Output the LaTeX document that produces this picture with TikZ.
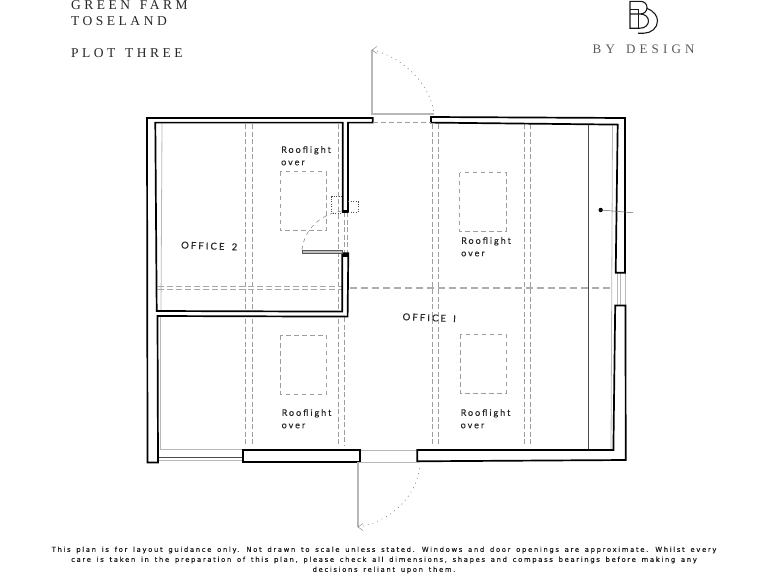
\documentclass[tikz,border=0pt]{standalone}
\usepackage{fontspec}
\setmainfont{Liberation Serif}
\newfontfamily\labelfont[LetterSpace=22,WordSpace=1.6,FakeBold=0.35]{Lato}
\newfontfamily\titlefont[LetterSpace=26,WordSpace=1.4]{Liberation Serif}
\newfontfamily\brandfont[LetterSpace=32,WordSpace=1.5]{Liberation Serif}
\newfontfamily\notefont[LetterSpace=24,WordSpace=1.5,FakeBold=0.2]{DejaVu Sans}
\tikzset{
  wall/.style={draw=black,line width=1.7pt,fill=white,line join=miter},
  roofdash/.style={draw=black!38,line width=0.6pt,dash pattern=on 4.5pt off 3.5pt},
  beamdash/.style={draw=black!38,line width=0.65pt,dash pattern=on 5pt off 2.5pt},
  ridge/.style={draw=black!35,line width=0.6pt,dash pattern=on 6pt off 3pt},
  ridgethick/.style={draw=black!32,line width=0.9pt,dash pattern=on 6.5pt off 4.5pt},
  lightline/.style={draw=black!28,line width=0.8pt},
  leaf/.style={draw=black!28,line width=1.4pt},
  swing/.style={draw=black!50,line width=0.6pt,dash pattern=on 1pt off 4pt},
  swingin/.style={draw=black!45,line width=0.6pt,dash pattern=on 4pt off 4pt},
  dots/.style={draw=black!70,line width=0.7pt,dash pattern=on 1pt off 1.5pt},
  room/.style={inner sep=0pt,anchor=west,font=\labelfont\fontsize{9.5}{11}\selectfont,text=black!85},
  roof/.style={inner sep=0pt,anchor=north west,align=left,font=\labelfont\fontsize{9}{12.4}\selectfont,text=black!85},
  title/.style={inner sep=0pt,anchor=west,font=\titlefont\fontsize{13.5}{14}\selectfont,text=black!85},
  brand/.style={inner sep=0pt,anchor=west,font=\brandfont\fontsize{13}{14}\selectfont,text=black!65},
  note/.style={inner sep=0pt,align=center,font=\notefont\fontsize{6.85}{10}\selectfont,text=black!90},
  logo/.style={draw=black!90,line width=1.1pt},
}
\begin{document}
\begin{tikzpicture}[x=1pt,y=-1pt]
\useasboundingbox (0,0) rectangle (768,576);
% rafters / beams
\foreach \bx in {245.5,252,338,432,438,524,530.5}{
  \draw[beamdash] (\bx,124) -- (\bx,445);
}
\draw[beamdash] (344,212) -- (344,445);
\draw[beamdash] (347,212) -- (347,253);
% ridge
\draw[ridge] (158,286.6) -- (342,286.6);
\draw[ridge] (158,288.8) -- (342,288.8);
\draw[ridgethick] (350,287) -- (612,287);
\draw[ridgethick] (350,288.8) -- (612,288.8);
% rooflights
\draw[roofdash] (280,171.7) rectangle (326,230.7);
\draw[roofdash] (459.5,172.7) rectangle (506,231);
\draw[roofdash] (280.7,335) rectangle (326.7,394);
\draw[roofdash] (460.3,334.3) rectangle (506.3,393.3);
% light inner lines
\draw[lightline] (162,123) -- (161,311);
\draw[lightline] (160.5,316) -- (160.5,449.5) -- (243,449.5);
\draw[draw=black!70,line width=0.8pt] (158,457.3) -- (243,457.3);
\draw[lightline] (158,460.8) -- (243,460.8);
\draw[lightline] (612.5,125) -- (611,450);
\draw[lightline] (360,450) -- (417,450);
\draw[lightline] (617,273) -- (617,305);
\draw[lightline] (620,273) -- (620,305);
\draw[lightline] (625,273) -- (625,305);
% stair / bulkhead line
\draw[draw=black!70,line width=0.7pt] (588.7,124) -- (588.7,450);
% outer shell and offices
\draw[wall] (147,118) -- (372.7,118) -- (372.7,122.6) -- (348,122.6) -- (348,211.7) -- (342.7,211.7) -- (342.7,122.6) -- (155.3,122.6) -- (156.7,311) -- (342.3,311.6) -- (342.3,253.3) -- (348.3,253.3) -- (347.6,316.6) -- (157.5,316) -- (158,462.5) -- (147.5,462.5) -- cycle;
\draw[wall] (431,117) -- (625,118) -- (625,272.7) -- (615.7,272.7) -- (617.7,124.6) -- (431,122.6) -- cycle;
\draw[wall] (615.2,305.5) -- (625.5,305.5) -- (625.7,460) -- (417.3,461.3) -- (417.3,450) -- (613.4,450) -- cycle;
\draw[wall] (243.3,450) rectangle (360,461.7);
\fill[black] (342.4,209.8) rectangle (348.3,213);
\fill[black] (342.3,253) rectangle (348.3,257);
% top door
\draw[leaf] (372,50) -- (372,114) -- (434,114);
\draw[roofdash] (373,122) -- (431,122);
\draw[swing] (372.5,50) .. controls (405,58) and (430,85) .. (434,113);
\draw[draw=black!45,line width=0.5pt] (377,46.5) -- (372,50) -- (377,53.5);
% bottom door
\draw[leaf] (358,527) -- (358,462.5) -- (420,462.5);
\draw[swing] (358,527) .. controls (390,522) and (417,497) .. (420,465);
\draw[draw=black!45,line width=0.5pt] (363,523.5) -- (358,527) -- (363,530.5);
% inner door
\draw[draw=black!65,line width=0.6pt,fill=black!25] (302,250.5) rectangle (342.3,253);
\draw[swingin] (302,250) .. controls (304,230) and (320,214) .. (342,211);
\draw[dots] (342,196.7) -- (331.7,196.7) -- (331.7,213) -- (342,213);
\draw[dots] (348,201.7) -- (358.3,201.7) -- (358.3,212.5) -- (348,212.5);
% east point
\fill[black] (600.7,210) circle (2.2pt);
\coordinate (eastend) at (633,212.7);
\draw[draw=black!60,line width=0.5pt] (600.7,210) -- (eastend);
% labels
\node[room,rotate=-2] (o2) at (181,245) {OFFICE 2};
\node[room,rotate=-2.2] (o1) at (402.5,316.7) {OFFICE I};
\node[roof] (r1) at (281,146) {Rooflight\\over};
\node[roof] (r2) at (461,237) {Rooflight\\over};
\node[roof] (r3) at (281.5,409) {Rooflight\\over};
\node[roof] (r4) at (460.5,409) {Rooflight\\over};
% titles
\node[title] (t1) at (71,5.5) {GREEN FARM};
\node[title] (t2) at (71,21.5) {TOSELAND};
\node[title] (t3) at (71,53.5) {PLOT THREE};
\node[brand] (b1) at (592.5,49) {BY DESIGN};
% logo
\draw[logo] (640,14) .. controls (644.5,14) and (647,11) .. (647,7.5) .. controls (647,4) and (644.5,1.3) .. (640,1.3) -- (630,1.3) -- (630,28.2) -- (640,28.2) .. controls (645,28.2) and (648.5,25) .. (648.5,21) .. controls (648.5,17) and (645,14) .. (640,14) -- (630,14);
\draw[logo] (630,9.5) -- (638.3,9.5) -- (638.3,28.2);
\draw[logo] (647,8.5) .. controls (654,11) and (657.5,16) .. (657.5,21) .. controls (657.5,28) and (651,33.2) .. (644,33.2) -- (638,33.2);
% note
\node[note] (n) at (384,560) {This plan is for layout guidance only. Not drawn to scale unless stated. Windows and door openings are approximate. Whilst every\\care is taken in the preparation of this plan, please check all dimensions, shapes and compass bearings before making any\\decisions reliant upon them.};
\end{tikzpicture}
\end{document}
